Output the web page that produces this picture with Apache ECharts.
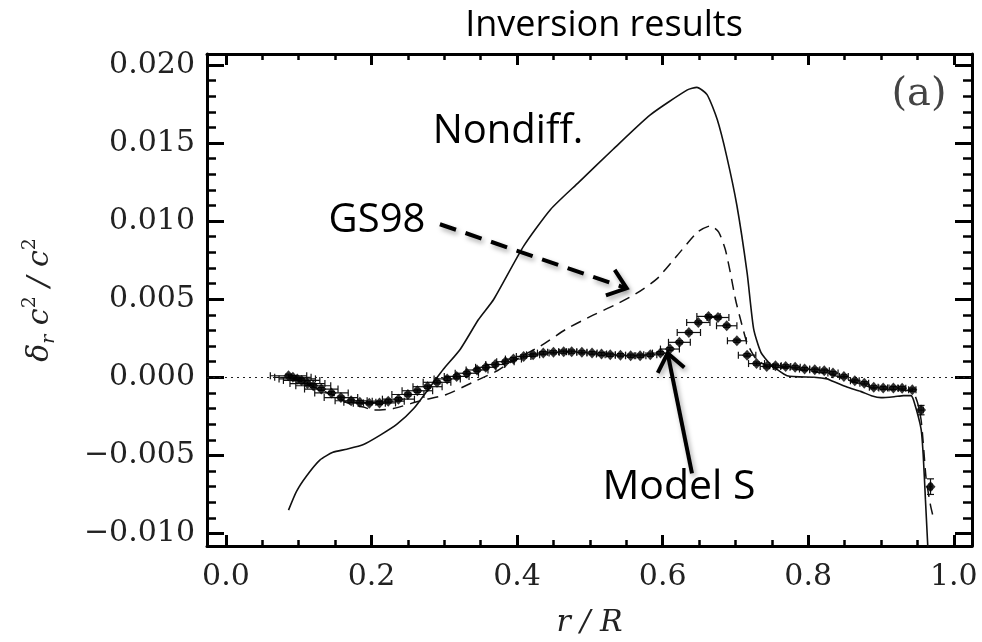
<!DOCTYPE html>
<html>
<head>
<meta charset="utf-8">
<script src="https://cdn.jsdelivr.net/npm/echarts@6/dist/echarts.min.js"></script>
<style>html,body{margin:0;padding:0;background:#fff;}#c{width:982px;height:642px;}</style>
</head>
<body>
<div id="c"></div>
<script>
// ---- data ----
const nondiffR = [0.086,0.097,0.111,0.129,0.147,0.166,0.189,0.212,0.235,0.258,0.280,0.299,0.322,0.347,0.368,0.409,0.446,0.485,0.532,0.583,0.634,0.647,0.661,0.675,0.688,0.702,0.716,0.725,0.735,0.748,0.771,0.808,0.826,0.831,0.854,0.872,0.888,0.900,0.918,0.931,0.941,0.945,0.955,0.958,0.961,0.965];
const nondiffV = [-0.0085,-0.0073,-0.0063,-0.0053,-0.0048,-0.0046,-0.0043,-0.0037,-0.0030,-0.0020,-0.00064,0.00053,0.0018,0.0037,0.0050,0.0084,0.01075,0.0125,0.0146,0.0168,0.0184,0.01856,0.0181,0.0165,0.01415,0.0110,0.0067,0.0031,0.0016,0.00085,0.0001,0.0,-0.0001,-0.0002,-0.00064,-0.0009,-0.0012,-0.0013,-0.00124,-0.00117,-0.00117,-0.0015,-0.0033,-0.0050,-0.0078,-0.0115];

const gs98R = [0.090,0.120,0.150,0.170,0.189,0.202,0.230,0.267,0.303,0.340,0.372,0.391,0.432,0.468,0.501,0.533,0.565,0.592,0.620,0.648,0.666,0.677,0.686,0.693,0.700,0.707,0.716,0.728,0.745,0.770,0.800,0.830,0.850,0.870,0.890,0.920,0.943,0.950,0.955,0.958,0.962,0.968,0.972];
const gs98V = [0.0000,-0.0006,-0.0012,-0.0017,-0.0019,-0.0021,-0.0020,-0.0015,-0.0011,-0.0003,0.0004,0.00096,0.0020,0.0031,0.0039,0.0046,0.0054,0.0063,0.0078,0.0093,0.0097,0.0093,0.0082,0.0067,0.0050,0.0037,0.0022,0.0012,0.0007,0.0006,0.0004,0.0002,-0.0001,-0.0004,-0.0007,-0.0008,-0.0009,-0.0016,-0.0027,-0.0042,-0.0065,-0.0082,-0.0090];

const modelSR = [0.086,0.092,0.098,0.104,0.112,0.120,0.131,0.145,0.158,0.172,0.184,0.197,0.211,0.223,0.237,0.250,0.263,0.277,0.290,0.304,0.317,0.331,0.345,0.357,0.370,0.384,0.395,0.409,0.422,0.436,0.450,0.464,0.475,0.489,0.503,0.516,0.528,0.542,0.556,0.569,0.583,0.597,0.610,0.623,0.636,0.649,0.663,0.676,0.688,0.702,0.716,0.729,0.743,0.755,0.769,0.782,0.795,0.809,0.822,0.834,0.849,0.864,0.877,0.890,0.903,0.917,0.929,0.943,0.955,0.968];
const modelSV = [0.0001,0.0000,-0.0001,-0.0002,-0.0004,-0.00054,-0.00075,-0.0010,-0.0013,-0.0015,-0.0016,-0.00166,-0.00164,-0.00153,-0.0014,-0.0011,-0.00086,-0.0006,-0.00032,-0.0001,0.00006,0.00026,0.00047,0.00064,0.00082,0.0010,0.00117,0.00134,0.00144,0.00155,0.0016,0.00164,0.00164,0.0016,0.00155,0.00149,0.00144,0.00142,0.00138,0.00138,0.00144,0.00155,0.00181,0.00224,0.00287,0.00351,0.0039,0.00383,0.0033,0.00234,0.00142,0.00088,0.0007,0.00074,0.0007,0.00064,0.00053,0.00049,0.00042,0.00027,0.00006,-0.00022,-0.00038,-0.00064,-0.00068,-0.00068,-0.0007,-0.00079,-0.0021,-0.0070];
const modelSXErr = [0.025,0.025,0.025,0.025,0.024,0.024,0.023,0.023,0.023,0.022,0.022,0.022,0.022,0.022,0.022,0.022,0.021,0.020,0.019,0.018,0.017,0.016,0.015,0.014,0.013,0.012,0.011,0.010,0.009,0.008,0.008,0.007,0.007,0.007,0.007,0.007,0.007,0.007,0.007,0.008,0.009,0.011,0.013,0.015,0.016,0.016,0.016,0.015,0.014,0.013,0.012,0.011,0.009,0.008,0.007,0.007,0.007,0.007,0.007,0.007,0.006,0.006,0.006,0.006,0.006,0.006,0.005,0.005,0.003,0.002];
const modelSYErr = [0.0001,0.0001,0.0001,0.0001,0.0001,0.0001,0.0001,0.0001,0.0001,0.0001,0.0001,0.0001,0.0001,0.0001,0.0001,0.0001,0.0001,0.0001,0.0001,0.0001,0.0001,0.0001,0.0001,0.0001,0.0001,0.0001,0.0001,0.0001,0.0001,0.0001,0.0001,0.0001,0.0001,0.0001,0.0001,0.0001,0.0001,0.0001,0.0001,0.0001,0.0001,0.0001,0.0001,0.0001,0.0001,0.0001,0.0001,0.0001,0.0001,0.0001,0.0001,0.0001,0.0001,0.0001,0.0001,0.0001,0.0001,0.0001,0.0001,0.0001,0.0001,0.0001,0.0001,0.0001,0.0001,0.0001,0.0001,0.0001,0.0003,0.0005];

const xMajorTicks = [0.0,0.2,0.4,0.6,0.8,1.0];
const xMinorTicks = [0.05,0.1,0.15,0.25,0.3,0.35,0.45,0.5,0.55,0.65,0.7,0.75,0.85,0.9,0.95];
const yMajorTicks = [-0.010,-0.005,0.000,0.005,0.010,0.015,0.020];
const yMinorTicks = [];
for (let i = -10; i <= 20; i++) { if (i % 5 !== 0) yMinorTicks.push(i / 1000); }

// annotation arrows in data space: [x1, y1, x2(tip), y2(tip), dashed]
const annotArrows = [[0.294, 0.0098, 0.5506, 0.0057, 1], [0.6403, -0.00615, 0.6068, 0.00154, 0]];

// ---- build ----
const XMIN = -0.026, XMAX = 1.025, YMIN = -0.0108, YMAX = 0.0207;
const serif = 'DejaVu Serif';
const pair = (a, b) => a.map((v, i) => [v, b[i]]);
const errData = modelSR.map((v, i) => [v, modelSV[i], modelSXErr[i], modelSYErr[i]]);

function frameAxis(pos, isX, major, minor, showLabel) {
  const base = {
    type: 'value', position: pos, min: isX ? XMIN : YMIN, max: isX ? XMAX : YMAX,
    splitLine: { show: false }
  };
  const L = isX ? 11 : 17, l = isX ? 6 : 9;
  return [
    Object.assign({}, base, {
      axisLine: { show: true, onZero: false, lineStyle: { color: '#000', width: 3 } },
      axisTick: { show: true, inside: true, length: L, customValues: major, lineStyle: { color: '#000', width: 3 } },
      axisLabel: showLabel ? {
        show: true, customValues: major, margin: isX ? 16 : 12,
        fontFamily: serif, fontSize: 30, color: '#222',
        formatter: v => (isX ? v.toFixed(1) : v.toFixed(3)).replace('-', '\u2212')
      } : { show: false }
    }),
    Object.assign({}, base, {
      axisLine: { show: false, onZero: false },
      axisTick: { show: true, inside: true, length: l, customValues: minor, lineStyle: { color: '#000', width: 2.5 } },
      axisLabel: { show: false }
    })
  ];
}

const xAxes = frameAxis('bottom', true, xMajorTicks, xMinorTicks, true)
  .concat(frameAxis('top', true, xMajorTicks, xMinorTicks, false));
xAxes[0].name = 'r / R';
xAxes[0].nameLocation = 'middle';
xAxes[0].nameGap = 62;
xAxes[0].nameTextStyle = { fontFamily: serif, fontStyle: 'italic', fontSize: 30, color: '#222' };
const yAxes = frameAxis('left', false, yMajorTicks, yMinorTicks, true)
  .concat(frameAxis('right', false, yMajorTicks, yMinorTicks, false));

const chart = echarts.init(document.getElementById('c'));
chart.setOption({
  animation: false,
  backgroundColor: '#fff',
  grid: { left: 207, right: 10, top: 54, bottom: 96, containLabel: false, outerBoundsMode: 'none' },
  xAxis: xAxes,
  yAxis: yAxes,
  graphic: [
    { type: 'text', x: 604, y: 26, style: { text: 'Inversion results', font: '36px "Open Sans"', fill: '#000', align: 'center', verticalAlign: 'middle' } },
    { type: 'text', x: 508, y: 132, style: { text: 'Nondiff.', font: '40px "Open Sans"', fill: '#000', align: 'center', verticalAlign: 'middle' } },
    { type: 'text', x: 377, y: 221, style: { text: 'GS98', font: '40px "Open Sans"', fill: '#000', align: 'center', verticalAlign: 'middle' } },
    { type: 'text', x: 679, y: 487, style: { text: 'Model S', font: '41px "Open Sans"', fill: '#000', align: 'center', verticalAlign: 'middle' } },
    { type: 'text', x: 919, y: 95, style: { text: '(a)', font: '40px "DejaVu Serif"', fill: '#444', align: 'center', verticalAlign: 'middle' } },
    { type: 'text', x: 40, y: 300, rotation: Math.PI / 2,
      style: { text: '{m|δ}{s|r}{m| c}{p|2}{m| / c}{p|2}', align: 'center', verticalAlign: 'middle', fill: '#222',
        rich: {
          m: { fontFamily: serif, fontStyle: 'italic', fontSize: 30, fill: '#222', lineHeight: 44, verticalAlign: 'middle' },
          s: { fontFamily: serif, fontStyle: 'italic', fontSize: 19, fill: '#222', lineHeight: 44, verticalAlign: 'bottom', padding: [0, 0, 3, 0] },
          p: { fontFamily: serif, fontSize: 19, fill: '#222', lineHeight: 44, verticalAlign: 'top', padding: [3, 0, 0, 0] }
        } } }
  ],
  series: [
    {
      name: 'Nondiff.', type: 'line', data: pair(nondiffR, nondiffV), showSymbol: false, symbol: 'none',
      smooth: 0.2,
      lineStyle: { color: '#111', width: 1.6 }, z: 3,
      markLine: {
        silent: true, symbol: 'none', label: { show: false },
        lineStyle: { color: '#222', width: 1.2, type: [2, 4] },
        data: [{ yAxis: 0 }]
      }
    },
    {
      name: 'GS98', type: 'line', data: pair(gs98R, gs98V), showSymbol: false, symbol: 'none',
      smooth: 0.2,
      lineStyle: { color: '#111', width: 1.5, type: [11, 7] }, z: 3
    },
    {
      name: 'Model S errors', type: 'custom', data: errData, encode: { x: 0, y: 1 }, z: 4,
      renderItem: function (params, api) {
        const x = api.value(0), y = api.value(1), xe = api.value(2), ye = api.value(3);
        const pL = api.coord([x - xe, y]), pR = api.coord([x + xe, y]);
        const pT = api.coord([x, y + ye]), pB = api.coord([x, y - ye]);
        const c = 3.5;
        const st = { stroke: '#111', lineWidth: 1.2, fill: null };
        return { type: 'group', children: [
          { type: 'line', shape: { x1: pL[0], y1: pL[1], x2: pR[0], y2: pR[1] }, style: st },
          { type: 'line', shape: { x1: pL[0], y1: pL[1] - c, x2: pL[0], y2: pL[1] + c }, style: st },
          { type: 'line', shape: { x1: pR[0], y1: pR[1] - c, x2: pR[0], y2: pR[1] + c }, style: st },
          { type: 'line', shape: { x1: pT[0], y1: pT[1], x2: pB[0], y2: pB[1] }, style: st },
          { type: 'line', shape: { x1: pT[0] - c, y1: pT[1], x2: pT[0] + c, y2: pT[1] }, style: st },
          { type: 'line', shape: { x1: pB[0] - c, y1: pB[1], x2: pB[0] + c, y2: pB[1] }, style: st }
        ] };
      }
    },
    {
      name: 'Model S', type: 'scatter', data: pair(modelSR, modelSV), symbol: 'diamond', symbolSize: [10, 11],
      itemStyle: { color: '#000' }, z: 5
    },
    {
      name: 'arrows', type: 'custom', data: annotArrows, clip: false, z: 6, silent: true,
      renderItem: function (params, api) {
        const a = api.coord([api.value(0), api.value(1)]);
        const b = api.coord([api.value(2), api.value(3)]);
        const dashed = api.value(4) === 1;
        const dx = a[0] - b[0], dy = a[1] - b[1];
        const len = Math.sqrt(dx * dx + dy * dy), ux = dx / len, uy = dy / len;
        const ang = 38 * Math.PI / 180, al = 22;
        const r1 = [b[0] + al * (ux * Math.cos(ang) - uy * Math.sin(ang)), b[1] + al * (ux * Math.sin(ang) + uy * Math.cos(ang))];
        const r2 = [b[0] + al * (ux * Math.cos(-ang) - uy * Math.sin(-ang)), b[1] + al * (ux * Math.sin(-ang) + uy * Math.cos(-ang))];
        const shadow = { shadowBlur: 5, shadowColor: 'rgba(0,0,0,0.35)', shadowOffsetX: 2, shadowOffsetY: 3 };
        return { type: 'group', children: [
          { type: 'line', shape: { x1: a[0], y1: a[1], x2: b[0] + ux * 2, y2: b[1] + uy * 2 },
            style: Object.assign({ stroke: '#000', lineWidth: 4, lineDash: dashed ? [17, 10] : null, fill: null }, shadow) },
          { type: 'polyline', shape: { points: [r1, b, r2] },
            style: Object.assign({ stroke: '#000', lineWidth: 4, fill: null, lineJoin: 'miter' }, shadow) }
        ] };
      }
    }
  ]
});
</script>
</body>
</html>
